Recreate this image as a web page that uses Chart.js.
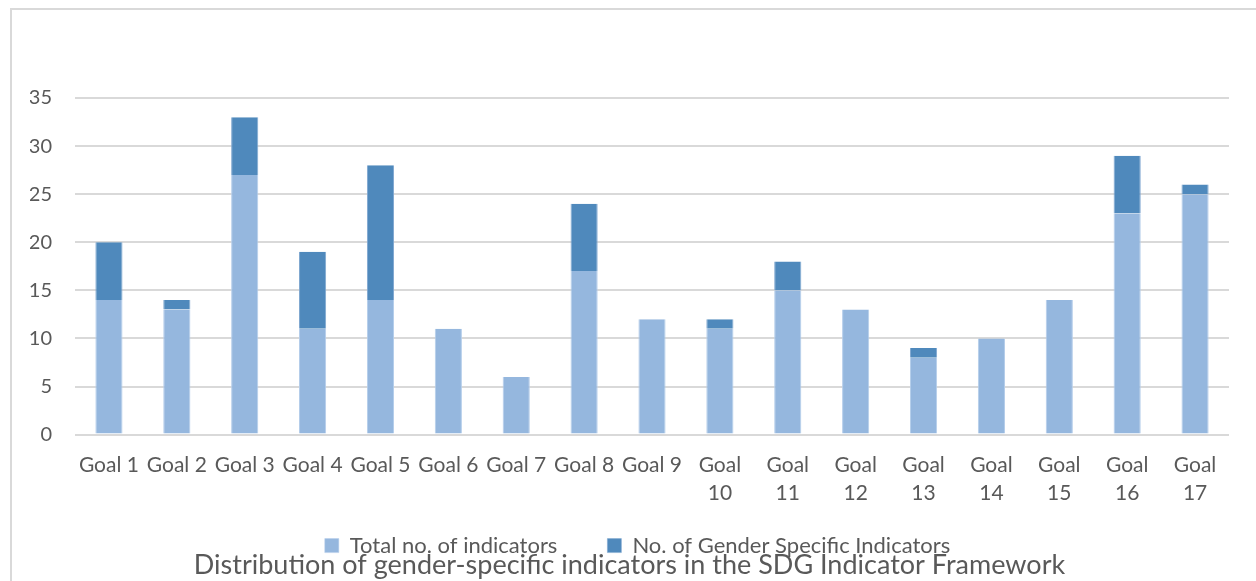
<!DOCTYPE html>
<html>
<head>
<meta charset="utf-8">
<script src="https://cdn.jsdelivr.net/npm/chart.js@4.4.1/dist/chart.umd.min.js"></script>
<style>
  html, body { margin: 0; padding: 0; background: #ffffff; }
  #wrap { position: relative; width: 1256px; height: 581px; }
</style>
</head>
<body>
<div id="wrap"><canvas id="chart" width="1256" height="581"></canvas></div>
<script>
// SDG goals shown on the x axis
const goals = [
  "Goal 1", "Goal 2", "Goal 3", "Goal 4", "Goal 5", "Goal 6", "Goal 7", "Goal 8", "Goal 9",
  "Goal 10", "Goal 11", "Goal 12", "Goal 13", "Goal 14", "Goal 15", "Goal 16", "Goal 17"
];
// Lower segment: total number of indicators per goal
const totalIndicators = [14, 13, 27, 11, 14, 11, 6, 17, 12, 11, 15, 13, 8, 10, 14, 23, 25];
// Upper segment: gender-specific indicators per goal
const genderIndicators = [6, 1, 6, 8, 14, 0, 0, 7, 0, 1, 3, 0, 1, 0, 0, 6, 1];
// Value axis ticks
const yTicks = [0, 5, 10, 15, 20, 25, 30, 35];

const seriesNames = ["Total no. of indicators", "No. of Gender Specific Indicators"];
const chartTitle = "Distribution of gender-specific indicators in the SDG Indicator Framework";

// Two-digit goals wrap onto two lines, as in the narrow category slots
const xLabels = goals.map(g => {
  const parts = g.split(" ");
  return parts[1].length > 1 ? parts : g;
});

const textColor = "#595959";
const gridColor = "#D9D9D9";
const fontFamily = "Lato, 'Open Sans', sans-serif";

// Light grey outline round the chart object
const frame = {
  id: "frame",
  beforeDraw(chart) {
    const ctx = chart.ctx;
    ctx.save();
    ctx.strokeStyle = gridColor;
    ctx.lineWidth = 2;
    ctx.beginPath();
    ctx.moveTo(11, chart.height);
    ctx.lineTo(11, 9);
    ctx.lineTo(chart.width, 9);
    ctx.stroke();
    ctx.restore();
  }
};

// The category axis is kept short so the legend can sit close to it;
// widen its box again after layout so the second label line is not clipped,
// and nudge the legend row a little to the right.
const layoutTweaks = {
  id: "layoutTweaks",
  afterLayout(chart) {
    const x = chart.scales.x;
    x.bottom = x.top + 80;
    if (chart.legend) {
      chart.legend.left += 8;
      chart.legend.right += 8;
    }
  }
};

new Chart(document.getElementById("chart"), {
  type: "bar",
  data: {
    labels: xLabels,
    datasets: [
      {
        label: seriesNames[0],
        data: totalIndicators,
        backgroundColor: "#95B7DE",
        borderColor: "#B4CDEA",
        borderWidth: { left: 1, right: 1, top: 0, bottom: 0 },
        borderSkipped: false,
        barPercentage: 0.4,
        categoryPercentage: 1.0
      },
      {
        label: seriesNames[1],
        data: genderIndicators,
        backgroundColor: "#4F89BC",
        borderColor: "#7FA7D0",
        borderWidth: { left: 1, right: 1, top: 0, bottom: 0 },
        borderSkipped: false,
        barPercentage: 0.4,
        categoryPercentage: 1.0
      }
    ]
  },
  options: {
    responsive: false,
    animation: false,
    events: [],
    layout: { padding: { top: 98, left: 30, right: 27, bottom: 0 } },
    scales: {
      x: {
        stacked: true,
        grid: { display: false, drawTicks: false },
        border: { display: false },
        ticks: {
          color: textColor,
          font: { family: fontFamily, size: 21, lineHeight: 1.35 },
          padding: 16,
          maxRotation: 0,
          minRotation: 0,
          autoSkip: false
        },
        afterFit(scale) { scale.height = 50; }
      },
      y: {
        stacked: true,
        min: 0,
        max: 35,
        afterBuildTicks(scale) { scale.ticks = yTicks.map(v => ({ value: v })); },
        grid: { color: gridColor, lineWidth: 2, drawTicks: false },
        border: { display: false },
        ticks: {
          color: textColor,
          font: { family: fontFamily, size: 20 },
          padding: 23
        },
        afterFit(scale) { scale.width = 45; }
      }
    },
    plugins: {
      tooltip: { enabled: false },
      legend: {
        position: "bottom",
        labels: {
          color: textColor,
          font: { family: fontFamily, size: 22 },
          boxWidth: 14,
          boxHeight: 14,
          padding: 50
        }
      },
      title: {
        display: true,
        position: "bottom",
        text: chartTitle,
        color: textColor,
        font: { family: fontFamily, size: 27, weight: "normal" },
        padding: { top: -18, bottom: 0 }
      }
    }
  },
  plugins: [frame, layoutTweaks]
});
</script>
</body>
</html>
